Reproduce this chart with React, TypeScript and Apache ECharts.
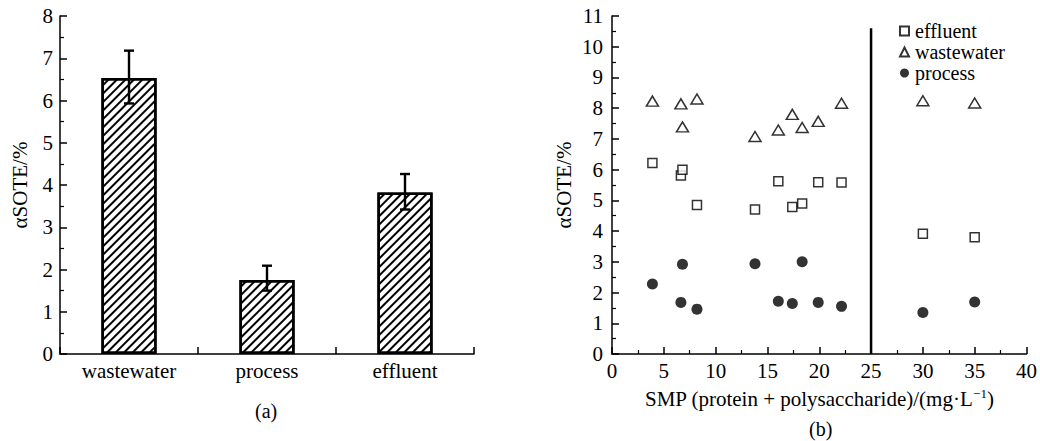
import React, { useEffect, useRef } from "react";
import * as echarts from "echarts";

const categories = ["wastewater", "process", "effluent"];
const barValues = [6.53, 1.75, 3.82];
const errLow = [5.93, 1.5, 3.42];
const errHigh = [7.18, 2.09, 4.26];

const effluentX = [3.9, 6.65, 6.8, 8.2, 13.8, 16.05, 17.4, 18.35, 19.9, 22.15, 30, 35];
const effluentY = [6.22, 5.81, 6.0, 4.85, 4.7, 5.62, 4.78, 4.9, 5.59, 5.58, 3.91, 3.8];
const wastewaterX = [3.9, 6.65, 6.8, 8.2, 13.8, 16.05, 17.4, 18.35, 19.9, 22.15, 30, 35];
const wastewaterY = [8.23, 8.14, 7.39, 8.3, 7.08, 7.29, 7.8, 7.37, 7.57, 8.16, 8.24, 8.17];
const processX = [3.9, 6.65, 6.8, 8.2, 13.8, 16.05, 17.4, 18.35, 19.9, 22.15, 30, 35];
const processY = [2.28, 1.68, 2.92, 1.46, 2.94, 1.72, 1.64, 3.0, 1.68, 1.55, 1.35, 1.69];

const dividerX = 25;
const dividerTop = 10.6;

const FONT = "Liberation Serif";

export default function App() {
  const ref = useRef<HTMLDivElement>(null);
  useEffect(() => {
    document.body.style.margin = "0";
    const chart = echarts.init(ref.current!, null, { renderer: "svg" });
    const axisCommon = {
      axisLine: { show: true, lineStyle: { color: "#000", width: 1.5 } },
      axisTick: { show: true, inside: true, length: 7, lineStyle: { color: "#000", width: 1.5 } },
      minorTick: { show: true, splitNumber: 2, length: 4, lineStyle: { color: "#000", width: 1.2 } },
      splitLine: { show: false },
      axisLabel: { color: "#000", fontFamily: FONT, fontSize: 21 },
    };
    chart.setOption({
      animation: false,
      backgroundColor: "#fff",
      textStyle: { fontFamily: FONT },
      grid: [
        { left: 60, top: 16, width: 414, height: 338 },
        { left: 612, top: 16, width: 416, height: 338 },
      ],
      xAxis: [
        {
          gridIndex: 0,
          type: "category",
          data: categories,
          axisLine: { lineStyle: { color: "#000", width: 1.5 } },
          axisTick: { show: true, inside: true, alignWithLabel: false, length: 7, lineStyle: { color: "#000", width: 1.5 } },
          axisLabel: { color: "#000", fontFamily: FONT, fontSize: 21, margin: 6 },
        },
        {
          gridIndex: 1,
          type: "value",
          min: 0,
          max: 40,
          interval: 5,
          ...axisCommon,
          axisLabel: { ...axisCommon.axisLabel, margin: 6 },
          name: "SMP (protein + polysaccharide)/(mg·L{sup|−1})",
          nameLocation: "middle",
          nameGap: 33,
          nameTextStyle: {
            color: "#000",
            fontFamily: FONT,
            fontSize: 21,
            rich: { sup: { fontSize: 13, verticalAlign: "top", padding: [0, 0, 10, 0], fontFamily: FONT, color: "#000" } },
          },
        },
      ],
      yAxis: [
        {
          gridIndex: 0,
          type: "value",
          min: 0,
          max: 8,
          interval: 1,
          ...axisCommon,
          axisLabel: { ...axisCommon.axisLabel, margin: 7 },
          name: "αSOTE/%",
          nameLocation: "middle",
          nameGap: 30,
          nameTextStyle: { color: "#000", fontFamily: FONT, fontSize: 21 },
        },
        {
          gridIndex: 1,
          type: "value",
          min: 0,
          max: 11,
          interval: 1,
          ...axisCommon,
          axisLabel: { ...axisCommon.axisLabel, margin: 9 },
          name: "αSOTE/%",
          nameLocation: "middle",
          nameGap: 38,
          nameTextStyle: { color: "#000", fontFamily: FONT, fontSize: 21 },
        },
      ],
      legend: {
        data: ["effluent", "wastewater", "process"],
        orient: "vertical",
        left: 894,
        top: 16,
        itemWidth: 9,
        itemHeight: 9,
        itemGap: 1,
        textStyle: { color: "#000", fontFamily: FONT, fontSize: 20, lineHeight: 19.5, padding: [0, 0, 0, 1] },
      },
      series: [
        {
          type: "bar",
          xAxisIndex: 0,
          yAxisIndex: 0,
          data: barValues,
          barWidth: "40%",
          itemStyle: {
            color: "#fff",
            borderColor: "#000",
            borderWidth: 2.5,
            decal: {
              symbol: "rect",
              symbolSize: 1,
              color: "#000",
              backgroundColor: "#fff",
              dashArrayX: [1, 0],
              dashArrayY: [1.2, 4],
              rotation: -Math.PI / 4,
            },
          },
          z: 2,
        },
        {
          type: "custom",
          xAxisIndex: 0,
          yAxisIndex: 0,
          data: categories.map((c, i) => [i, errLow[i], errHigh[i]]),
          encode: { x: 0, y: [1, 2] },
          z: 5,
          renderItem: (params: any, api: any) => {
            const i = api.value(0);
            const lo = api.coord([i, api.value(1)]);
            const hi = api.coord([i, api.value(2)]);
            const w = 5;
            const style = { stroke: "#000", lineWidth: 2.4 };
            return {
              type: "group",
              children: [
                { type: "line", shape: { x1: lo[0], y1: lo[1], x2: hi[0], y2: hi[1] }, style },
                { type: "line", shape: { x1: hi[0] - w, y1: hi[1], x2: hi[0] + w, y2: hi[1] }, style },
                { type: "line", shape: { x1: lo[0] - w, y1: lo[1], x2: lo[0] + w, y2: lo[1] }, style },
              ],
            };
          },
        },
        {
          name: "effluent",
          type: "scatter",
          xAxisIndex: 1,
          yAxisIndex: 1,
          symbol: "rect",
          symbolSize: 9,
          itemStyle: { color: "#fff", borderColor: "#000", borderWidth: 1.5 },
          data: effluentX.map((x, i) => [x, effluentY[i]]),
        },
        {
          name: "wastewater",
          type: "scatter",
          xAxisIndex: 1,
          yAxisIndex: 1,
          symbol: "triangle",
          symbolSize: [12, 10],
          itemStyle: { color: "#fff", borderColor: "#000", borderWidth: 1.5 },
          data: wastewaterX.map((x, i) => [x, wastewaterY[i]]),
        },
        {
          name: "process",
          type: "scatter",
          xAxisIndex: 1,
          yAxisIndex: 1,
          symbol: "circle",
          symbolSize: 11,
          itemStyle: { color: "#000" },
          data: processX.map((x, i) => [x, processY[i]]),
        },
        {
          type: "line",
          xAxisIndex: 1,
          yAxisIndex: 1,
          data: [
            [dividerX, 0],
            [dividerX, dividerTop],
          ],
          symbol: "none",
          lineStyle: { color: "#000", width: 2.5 },
        },
      ],
      graphic: [
        { type: "text", left: 255, top: 401, style: { text: "(a)", font: `20px ${FONT}`, fill: "#000" } },
        { type: "text", left: 809, top: 419, style: { text: "(b)", font: `20px ${FONT}`, fill: "#000" } },
      ],
    });
    return () => chart.dispose();
  }, []);
  return <div ref={ref} style={{ width: 1040, height: 441 }} />;
}
